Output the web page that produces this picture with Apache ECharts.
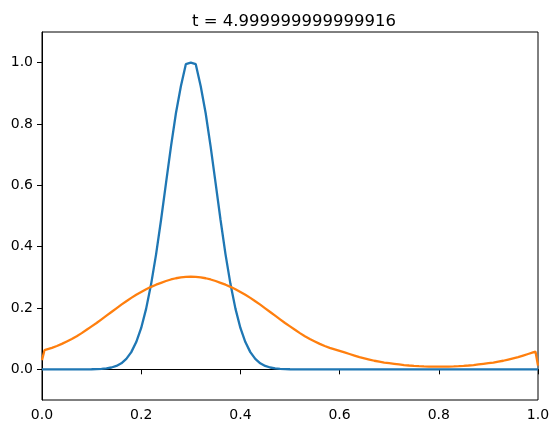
<!DOCTYPE html>
<html>
<head>
<meta charset="utf-8">
<script src="https://cdn.jsdelivr.net/npm/echarts@6/dist/echarts.min.js"></script>
<style>
html,body{margin:0;padding:0;background:#fff;}
#chart{width:558px;height:435px;}
</style>
</head>
<body>
<div id="chart"></div>
<script>
const titleText = 't = 4.999999999999916';
const xTicks = [0.0, 0.2, 0.4, 0.6, 0.8, 1.0];
const yTicks = [0.0, 0.2, 0.4, 0.6, 0.8, 1.0];

// sample grid x = 0.00 .. 1.00, step 0.01
const xGrid = Array.from({length: 101}, (_, i) => i / 100);

const blue = [
  0, 0, 0, 0, 0, 0, 0, 0, 0, 0,
  0.0003, 0.0007, 0.0015, 0.0031, 0.0060, 0.0111, 0.0198, 0.0340, 0.0561, 0.0889,
  0.135, 0.198, 0.278, 0.375, 0.487, 0.607, 0.726, 0.835, 0.923, 0.995,
  1.0,
  0.995, 0.923, 0.835, 0.726, 0.607, 0.487, 0.375, 0.278, 0.198, 0.135,
  0.0889, 0.0561, 0.0340, 0.0198, 0.0111, 0.0060, 0.0031, 0.0015, 0.0007, 0.0003,
  0, 0, 0, 0, 0, 0, 0, 0, 0, 0,
  0, 0, 0, 0, 0, 0, 0, 0, 0, 0,
  0, 0, 0, 0, 0, 0, 0, 0, 0, 0,
  0, 0, 0, 0, 0, 0, 0, 0, 0, 0,
  0, 0, 0, 0, 0, 0, 0, 0, 0, 0
];

const orange = [
  0.030, 0.065, 0.070, 0.076, 0.083, 0.091, 0.099, 0.108, 0.118, 0.129,
  0.140, 0.151, 0.163, 0.175, 0.187, 0.199, 0.211, 0.222, 0.233, 0.243,
  0.252, 0.261, 0.269, 0.276, 0.282, 0.288, 0.293, 0.297, 0.300, 0.3015,
  0.302,
  0.3015, 0.300, 0.297, 0.293, 0.288, 0.282, 0.276, 0.269, 0.261, 0.252,
  0.243, 0.233, 0.222, 0.211, 0.199, 0.187, 0.175, 0.163, 0.151, 0.140,
  0.129, 0.118, 0.108, 0.099, 0.091, 0.083, 0.076, 0.070, 0.065, 0.060,
  0.055, 0.050, 0.045, 0.040, 0.036, 0.032, 0.028, 0.025, 0.022, 0.020,
  0.018, 0.016, 0.014, 0.0125, 0.0113, 0.0103, 0.0095, 0.009, 0.0087, 0.0086,
  0.0087, 0.009, 0.0095, 0.0103, 0.0113, 0.0125, 0.014, 0.016, 0.018, 0.020,
  0.022, 0.025, 0.028, 0.032, 0.036, 0.040, 0.045, 0.050, 0.055, 0.012
];
// extra samples right next to the boundaries
const orangeEdgeX = [0.005, 0.995];
const orangeEdge = [0.0625, 0.0575];

const bluePairs = xGrid.map((x, i) => [x, blue[i]]);
const orangePairs = xGrid.map((x, i) => [x, orange[i]])
  .concat(orangeEdgeX.map((x, i) => [x, orangeEdge[i]]))
  .sort((a, b) => a[0] - b[0]);

const font = 'DejaVu Sans';
const chart = echarts.init(document.getElementById('chart'), null, {renderer: 'canvas'});
chart.setOption({
  animation: false,
  backgroundColor: '#fff',
  title: {
    text: titleText,
    left: 289,
    top: 8,
    textAlign: 'center',
    textStyle: {fontFamily: font, fontSize: 16.5, fontWeight: 'normal', color: '#000'}
  },
  grid: {
    left: 42, right: 20, top: 32, bottom: 35,
    show: true, borderColor: '#000', borderWidth: 1,
    outerBoundsMode: 'none', containLabel: false
  },
  xAxis: {
    type: 'value', min: 0, max: 1, interval: 0.2,
    axisLine: {show: true, lineStyle: {color: '#000', width: 1}},
    axisTick: {show: true, inside: false, length: 5, lineStyle: {color: '#000'}, customValues: xTicks},
    axisLabel: {color: '#000', fontFamily: font, fontSize: 14, margin: 8,
      customValues: xTicks, formatter: v => v.toFixed(1)},
    splitLine: {show: false}
  },
  yAxis: {
    type: 'value', min: -0.1, max: 1.1,
    axisLine: {show: true, lineStyle: {color: '#000', width: 1}},
    axisTick: {show: true, inside: false, length: 5, lineStyle: {color: '#000'}, customValues: yTicks},
    axisLabel: {color: '#000', fontFamily: font, fontSize: 14, margin: 9,
      customValues: yTicks, formatter: v => v.toFixed(1)},
    splitLine: {show: false}
  },
  series: [
    {type: 'line', data: bluePairs, symbol: 'none', clip: true,
      lineStyle: {color: '#1f77b4', width: 2.3}, itemStyle: {color: '#1f77b4'}},
    {type: 'line', data: orangePairs, symbol: 'none', clip: true,
      lineStyle: {color: '#ff7f0e', width: 2.3}, itemStyle: {color: '#ff7f0e'}}
  ]
});
</script>
</body>
</html>
